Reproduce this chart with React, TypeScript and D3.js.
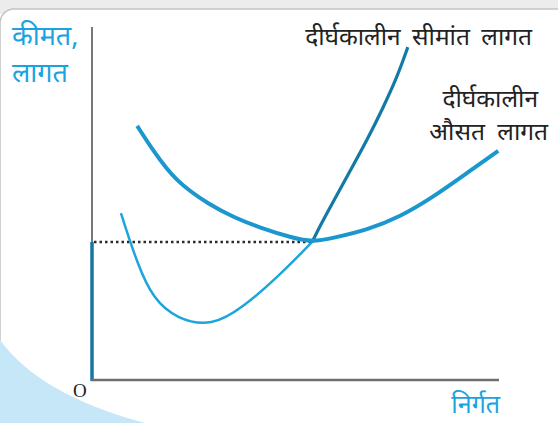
import React from 'react';
import * as d3 from 'd3';

// long run average cost (LAC), output vs cost units
const lacX = [1.11, 1.5, 2.04, 2.9, 3.5, 4.13, 4.94, 5.41, 5.92, 6.76, 7.57, 8.38, 9.21, 9.98];
const lacY = [7.2, 6.5, 5.64, 4.95, 4.6, 4.31, 4.02, 3.91, 4.02, 4.25, 4.62, 5.18, 5.86, 6.49];

// long run marginal cost (LMC), lower part (below LAC) and upper part
const lmcLowX = [0.71, 1.11, 1.5, 2.09, 2.95, 3.71, 4.55, 5.41];
const lmcLowY = [4.73, 3.3, 2.3, 1.72, 1.52, 2.06, 2.9, 3.91];
const lmcHighX = [5.41, 5.6, 5.92, 6.34, 6.76, 7.15, 7.49, 7.76];
const lmcHighY = [3.91, 4.36, 5.04, 5.92, 6.8, 7.71, 8.56, 9.43];

// point where LMC cuts LAC at its minimum
const minPoint = { x: 5.41, y: 3.91 };

const labels = {
  yTop: 'कीमत,',
  yBottom: 'लागत',
  x: 'निर्गत',
  lmc: 'दीर्घकालीन सीमांत लागत',
  lacTop: 'दीर्घकालीन',
  lacBottom: 'औसत लागत',
  origin: 'O',
};

const W = 558;
const H = 423;
const font = "'Noto Sans', 'Noto Sans Devanagari', sans-serif";

const App = () => {
  const x = d3.scaleLinear().domain([0, 10]).range([92, 499]);
  const y = d3.scaleLinear().domain([0, 10]).range([380, 27]);

  const zip = (xs: number[], ys: number[]) => xs.map((v, i) => [v, ys[i]] as [number, number]);

  const line = d3
    .line<[number, number]>()
    .x((d) => x(d[0]))
    .y((d) => y(d[1]))
    .curve(d3.curveBasis);

  return (
    <svg width={W} height={H} style={{ position: 'absolute', left: 0, top: 0, background: '#fff' }}>
      {/* page frame */}
      <rect x={0} y={0} width={W} height={14} fill="#ececec" />
      <rect x={0} y={9} width={W + 20} height={H + 20} rx={14} fill="#fff" stroke="#c4c4c4" strokeWidth={1.5} />
      <path d="M0,340 Q40,395 145,423 L0,423 Z" fill="#c6e7f7" />

      {/* axes */}
      <line x1={x(0)} x2={x(0)} y1={y(10)} y2={y(minPoint.y)} stroke="#777" strokeWidth={2} />
      <line x1={x(0)} x2={x(0)} y1={y(minPoint.y)} y2={y(0) + 1} stroke="#1777a3" strokeWidth={3.5} />
      <line x1={x(0) - 1} x2={x(10)} y1={y(0)} y2={y(0)} stroke="#6e6e6e" strokeWidth={2.5} />

      {/* dotted guide */}
      <line
        x1={x(0) + 2}
        x2={x(minPoint.x)}
        y1={y(minPoint.y)}
        y2={y(minPoint.y)}
        stroke="#2b2b2b"
        strokeWidth={2.5}
        strokeDasharray="2.5,3"
      />

      {/* curves */}
      <path d={line(zip(lmcLowX, lmcLowY)) || ''} fill="none" stroke="#1ea5dc" strokeWidth={2.5} />
      <path d={line(zip(lmcHighX, lmcHighY)) || ''} fill="none" stroke="#1379a5" strokeWidth={3.2} />
      <path d={line(zip(lacX, lacY)) || ''} fill="none" stroke="#1b97cf" strokeWidth={4} />

      {/* labels */}
      <g fontFamily={font} fontSize={27} fill="#1aa3e0">
        <text x={12} y={45}>{labels.yTop}</text>
        <text x={12} y={82}>{labels.yBottom}</text>
      </g>
      <text x={500} y={413} textAnchor="end" fontFamily={font} fontSize={25} fill="#1aa3e0">{labels.x}</text>
      <g fontFamily={font} fontSize={24.5} fill="#222" wordSpacing={5}>
        <text x={532} y={45} textAnchor="end">{labels.lmc}</text>
        <text x={538} y={107} textAnchor="end">{labels.lacTop}</text>
        <text x={548} y={140} textAnchor="end" wordSpacing={6}>{labels.lacBottom}</text>
      </g>
      <text x={73} y={397} fontFamily="'Liberation Serif', serif" fontSize={19} fill="#222">{labels.origin}</text>
    </svg>
  );
};

export default App;
